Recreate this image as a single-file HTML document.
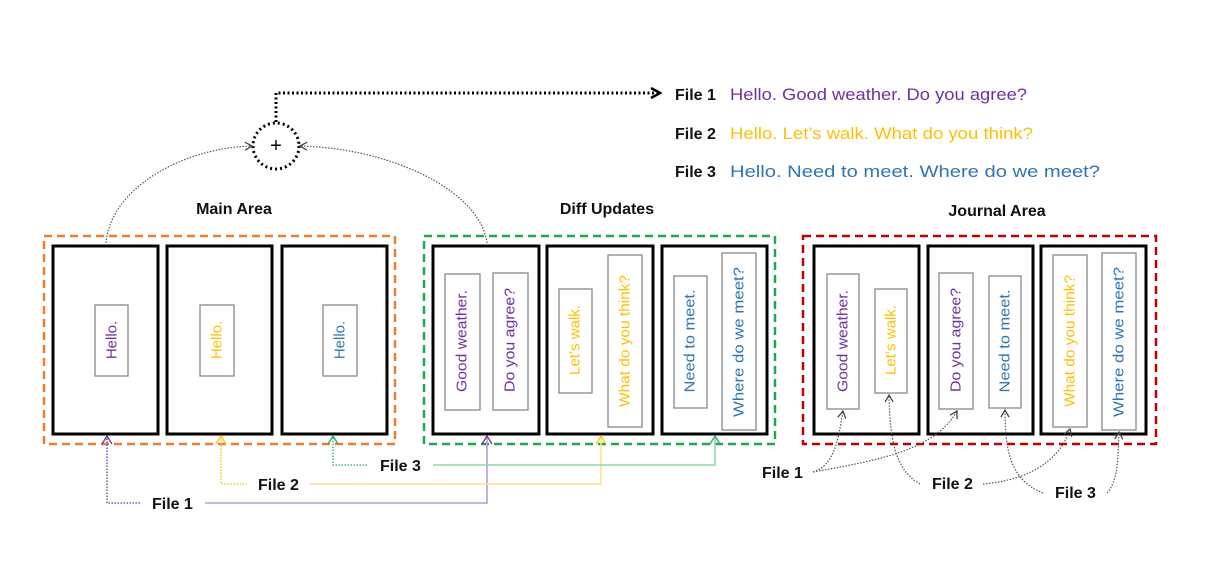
<!DOCTYPE html>
<html><head><meta charset="utf-8"><style>
html,body{margin:0;padding:0;background:#fff;}
svg{display:block;font-family:"Liberation Sans",sans-serif;}
.lbl{font-weight:bold;font-size:16px;fill:#111;}
.v{font-size:15px;text-anchor:middle;dominant-baseline:central;}
</style></head><body>
<svg width="1218" height="580" viewBox="0 0 1218 580" xmlns="http://www.w3.org/2000/svg">
<defs>
<marker id="ag" markerWidth="10" markerHeight="10" refX="8" refY="5" orient="auto" markerUnits="userSpaceOnUse"><path d="M1,1 L8,5 L1,9" fill="none" stroke="#444" stroke-width="1.3"/></marker>
<marker id="ab" markerWidth="12" markerHeight="12" refX="10" refY="6" orient="auto" markerUnits="userSpaceOnUse"><path d="M1,1 L10,6 L1,11" fill="none" stroke="#000" stroke-width="2.5"/></marker>
<marker id="ap" markerWidth="12" markerHeight="10" refX="6" refY="1" orient="0" markerUnits="userSpaceOnUse"><path d="M1,9 L6,1 L11,9" fill="none" stroke="#7030a0" stroke-width="1.3"/></marker>
<marker id="ay" markerWidth="12" markerHeight="10" refX="6" refY="1" orient="0" markerUnits="userSpaceOnUse"><path d="M1,9 L6,1 L11,9" fill="none" stroke="#ffc000" stroke-width="1.3"/></marker>
<marker id="agr" markerWidth="12" markerHeight="10" refX="6" refY="1" orient="0" markerUnits="userSpaceOnUse"><path d="M1,9 L6,1 L11,9" fill="none" stroke="#27ae60" stroke-width="1.3"/></marker>
</defs>

<circle cx="276" cy="146" r="23" fill="none" stroke="#000" stroke-width="3" stroke-dasharray="2 3"/>
<text x="276" y="152" font-size="20" text-anchor="middle">+</text>
<path d="M276,122 V93 H660" fill="none" stroke="#000" stroke-width="3" stroke-dasharray="2 2.5" marker-end="url(#ab)"/>
<path d="M106,243 C110,190 180,148 252,146" fill="none" stroke="#555" stroke-width="1.2" stroke-dasharray="1.5 1.5" marker-end="url(#ag)"/>
<path d="M487,243 C480,190 390,148 300,146" fill="none" stroke="#555" stroke-width="1.2" stroke-dasharray="1.5 1.5" marker-end="url(#ag)"/>

<text class="lbl" x="675" y="100">File 1</text>
<text x="730" y="100" font-size="17" fill="#7030a0" textLength="297" lengthAdjust="spacingAndGlyphs">Hello. Good weather. Do you agree?</text>
<text class="lbl" x="675" y="139">File 2</text>
<text x="730" y="139" font-size="17" fill="#ffc000" textLength="303" lengthAdjust="spacingAndGlyphs">Hello. Let’s walk. What do you think?</text>
<text class="lbl" x="675" y="177">File 3</text>
<text x="730" y="177" font-size="17" fill="#2e75b6" textLength="370" lengthAdjust="spacingAndGlyphs">Hello. Need to meet. Where do we meet?</text>

<text class="lbl" x="234" y="214" text-anchor="middle">Main Area</text>
<text class="lbl" x="607" y="214" text-anchor="middle">Diff Updates</text>
<text class="lbl" x="997" y="216" text-anchor="middle">Journal Area</text>

<rect x="44" y="236" width="351" height="208" fill="none" stroke="#ed7d31" stroke-width="2.5" stroke-dasharray="8 5"/>
<rect x="424" y="236" width="351" height="208" fill="none" stroke="#1aaa4a" stroke-width="2.5" stroke-dasharray="8 5"/>
<rect x="803" y="236" width="353" height="208" fill="none" stroke="#c00000" stroke-width="2.5" stroke-dasharray="8 5"/>

<g fill="none" stroke="#000" stroke-width="3">
<rect x="53" y="246" width="105" height="188"/><rect x="167" y="246" width="105" height="188"/><rect x="282" y="246" width="105" height="188"/>
<rect x="433" y="246" width="106" height="188"/><rect x="547" y="246" width="106" height="188"/><rect x="662" y="246" width="105" height="188"/>
<rect x="814" y="246" width="105" height="188"/><rect x="928" y="246" width="105" height="188"/><rect x="1041" y="246" width="105" height="188"/>
</g>
<g fill="#fff" stroke="#888" stroke-width="1.3">
<rect x="95" y="305" width="33" height="71"/><rect x="200" y="305" width="34" height="71"/><rect x="323" y="305" width="34" height="71"/>
<rect x="445" y="274" width="35" height="136"/><rect x="493" y="273" width="35" height="137"/>
<rect x="559" y="289" width="33" height="104"/><rect x="608" y="255" width="34" height="172"/>
<rect x="674" y="276" width="33" height="132"/><rect x="722" y="253" width="34" height="177"/>
<rect x="827" y="274" width="32" height="135"/><rect x="875" y="289" width="32" height="104"/>
<rect x="939" y="273" width="34" height="136"/><rect x="989" y="276" width="32" height="132"/>
<rect x="1053" y="255" width="34" height="172"/><rect x="1102" y="253" width="34" height="177"/>
</g>
<g class="v">
<text class="v" transform="translate(112,340) rotate(-90)" fill="#7030a0">Hello.</text>
<text class="v" transform="translate(217,340) rotate(-90)" fill="#ffc000">Hello.</text>
<text class="v" transform="translate(340,340) rotate(-90)" fill="#2e75b6">Hello.</text>
<text class="v" transform="translate(462,341) rotate(-90)" fill="#7030a0" textLength="102" lengthAdjust="spacingAndGlyphs">Good weather.</text>
<text class="v" transform="translate(510,340) rotate(-90)" fill="#7030a0" textLength="104" lengthAdjust="spacingAndGlyphs">Do you agree?</text>
<text class="v" transform="translate(575,340) rotate(-90)" fill="#ffc000" textLength="70" lengthAdjust="spacingAndGlyphs">Let’s walk.</text>
<text class="v" transform="translate(625,341) rotate(-90)" fill="#ffc000" textLength="132" lengthAdjust="spacingAndGlyphs">What do you think?</text>
<text class="v" transform="translate(690,341) rotate(-90)" fill="#2e75b6" textLength="103" lengthAdjust="spacingAndGlyphs">Need to meet.</text>
<text class="v" transform="translate(739,342) rotate(-90)" fill="#2e75b6" textLength="150" lengthAdjust="spacingAndGlyphs">Where do we meet?</text>
<text class="v" transform="translate(843,341) rotate(-90)" fill="#7030a0" textLength="102" lengthAdjust="spacingAndGlyphs">Good weather.</text>
<text class="v" transform="translate(891,340) rotate(-90)" fill="#ffc000" textLength="70" lengthAdjust="spacingAndGlyphs">Let’s walk.</text>
<text class="v" transform="translate(956,340) rotate(-90)" fill="#7030a0" textLength="104" lengthAdjust="spacingAndGlyphs">Do you agree?</text>
<text class="v" transform="translate(1005,341) rotate(-90)" fill="#2e75b6" textLength="103" lengthAdjust="spacingAndGlyphs">Need to meet.</text>
<text class="v" transform="translate(1070,341) rotate(-90)" fill="#ffc000" textLength="132" lengthAdjust="spacingAndGlyphs">What do you think?</text>
<text class="v" transform="translate(1119,342) rotate(-90)" fill="#2e75b6" textLength="150" lengthAdjust="spacingAndGlyphs">Where do we meet?</text>
</g>

<path d="M140,503 H107 V436" fill="none" stroke="#7030a0" stroke-width="1.3" stroke-dasharray="1.5 1.5" marker-end="url(#ap)"/>
<path d="M205,503 H487 V436" fill="none" stroke="#b89bd6" stroke-width="1.6" marker-end="url(#ap)"/>
<path d="M247,484 H221 V436" fill="none" stroke="#ffc000" stroke-width="1.3" stroke-dasharray="1.5 1.5" marker-end="url(#ay)"/>
<path d="M310,484 H601 V436" fill="none" stroke="#ffe08a" stroke-width="1.6" marker-end="url(#ay)"/>
<path d="M367,465 H333 V436" fill="none" stroke="#27ae60" stroke-width="1.3" stroke-dasharray="1.5 1.5" marker-end="url(#agr)"/>
<path d="M433,465 H715 V436" fill="none" stroke="#8fd9a8" stroke-width="1.6" marker-end="url(#agr)"/>
<text class="lbl" x="152" y="509">File 1</text>
<text class="lbl" x="258" y="490">File 2</text>
<text class="lbl" x="380" y="471">File 3</text>

<g fill="none" stroke="#555" stroke-width="1.2" stroke-dasharray="1.5 1.5">
<path d="M813,472 C835,465 838,440 843,411" marker-end="url(#ag)"/>
<path d="M813,472 C880,460 935,450 957,411" marker-end="url(#ag)"/>
<path d="M920,484 C895,470 890,440 889,395" marker-end="url(#ag)"/>
<path d="M983,484 C1030,480 1060,460 1070,429" marker-end="url(#ag)"/>
<path d="M1043,493 C1010,480 1005,450 1005,410" marker-end="url(#ag)"/>
<path d="M1107,493 C1118,480 1118,460 1119,432" marker-end="url(#ag)"/>
</g>
<text class="lbl" x="762" y="478">File 1</text>
<text class="lbl" x="932" y="489">File 2</text>
<text class="lbl" x="1055" y="498">File 3</text>
</svg>
</body></html>
